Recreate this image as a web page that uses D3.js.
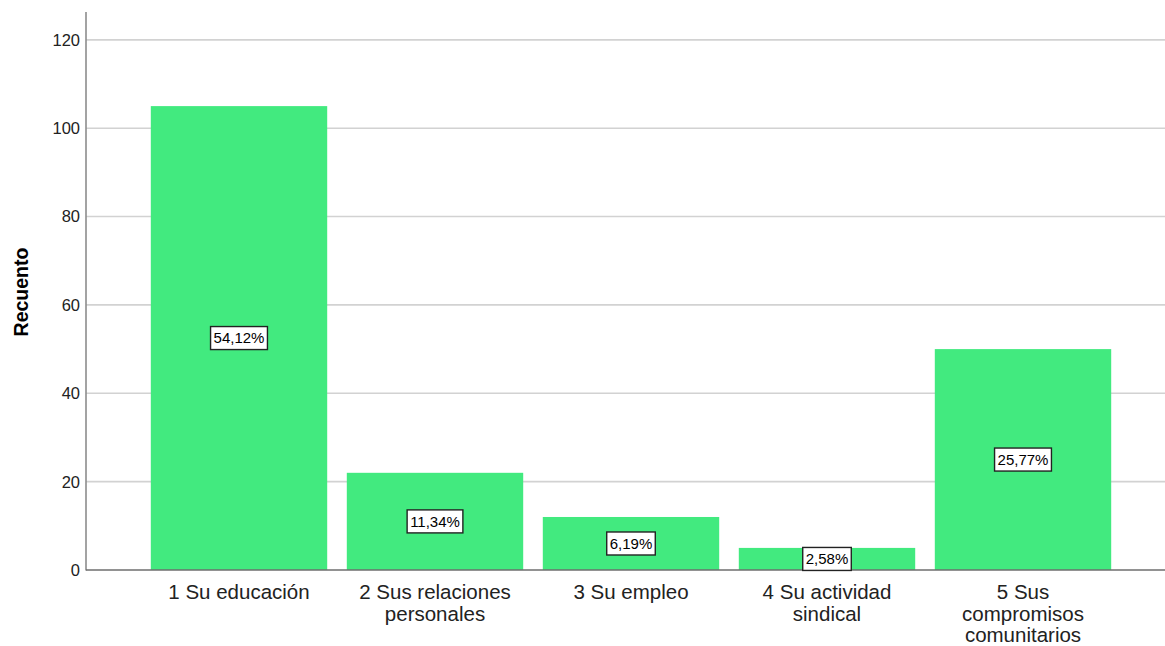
<!DOCTYPE html>
<html><head><meta charset="utf-8">
<script src="https://cdn.jsdelivr.net/npm/d3@7"></script>
<style>body{margin:0;background:#fff}svg{display:block}</style>
</head><body>
<svg id="c" width="1165" height="646"></svg>
<script>
const categories = [["1 Su educación"],["2 Sus relaciones","personales"],["3 Su empleo"],["4 Su actividad","sindical"],["5 Sus","compromisos","comunitarios"]];
const counts = [105, 22, 12, 5, 50];
const pctLabels = ["54,12%","11,34%","6,19%","2,58%","25,77%"];
const yTicks = [0,20,40,60,80,100,120];
const yTitle = "Recuento";

const svg = d3.select("#c");
const font = "Arial, 'Liberation Sans', sans-serif";
const x = d3.scaleBand().domain(d3.range(counts.length)).range([141,1121]).paddingInner(0.1).paddingOuter(0.05);
const y = d3.scaleLinear().domain([0,126.3]).range([570,12]);
const left = 86, right = 1165;

// gridlines
svg.append("g").selectAll("line").data(yTicks.filter(d=>d>0)).join("line")
  .attr("x1",left).attr("x2",right).attr("y1",d=>y(d)).attr("y2",d=>y(d))
  .attr("stroke","#d2d2d2").attr("stroke-width",1.6);

// bars
svg.append("g").selectAll("rect").data(counts).join("rect")
  .attr("x",(d,i)=>x(i)).attr("width",x.bandwidth())
  .attr("y",d=>y(d)).attr("height",d=>y(0)-y(d))
  .attr("fill","#42ea7f");

// axes lines
svg.append("line").attr("x1",left).attr("x2",left).attr("y1",12).attr("y2",y(0)+0.5).attr("stroke","#8c8c8c").attr("stroke-width",1.6);
svg.append("line").attr("x1",left).attr("x2",right).attr("y1",y(0)).attr("y2",y(0)).attr("stroke","#6e6e6e").attr("stroke-width",1.4);

// y tick labels
svg.append("g").selectAll("text").data(yTicks).join("text")
  .attr("x",80).attr("y",d=>y(d)).attr("dy","0.36em").attr("text-anchor","end")
  .attr("font-family",font).attr("font-size",16.5).attr("fill","#222").text(d=>d);

// y title
svg.append("text").attr("transform","translate(28,292) rotate(-90)").attr("text-anchor","middle")
  .attr("font-family",font).attr("font-size",19.5).attr("font-weight","bold").attr("fill","#000").text(yTitle);

// category labels
const cg = svg.append("g").selectAll("text").data(categories).join("text")
  .attr("x",(d,i)=>x(i)+x.bandwidth()/2).attr("y",599).attr("text-anchor","middle")
  .attr("font-family",font).attr("font-size",20.5).attr("fill","#222");
cg.selectAll("tspan").data(d=>d).join("tspan")
  .attr("x",function(){return this.parentNode.getAttribute("x");})
  .attr("dy",(d,j)=>j===0?0:21.5).text(d=>d);

// percent labels
const pg = svg.append("g").selectAll("g").data(counts).join("g")
  .attr("transform",(d,i)=>`translate(${x(i)+x.bandwidth()/2},${y(d/2)})`);
pg.each(function(d,i){
  const g = d3.select(this);
  const t = g.append("text").attr("text-anchor","middle").attr("dy","0.36em")
    .attr("font-family",font).attr("font-size",15).attr("fill","#000").text(pctLabels[i]);
  const bb = t.node().getBBox();
  g.insert("rect","text").attr("x",bb.x-3).attr("y",-11.5).attr("width",bb.width+6).attr("height",23)
    .attr("fill","#fff").attr("stroke","#222").attr("stroke-width",1.4);
});
</script>
</body></html>
